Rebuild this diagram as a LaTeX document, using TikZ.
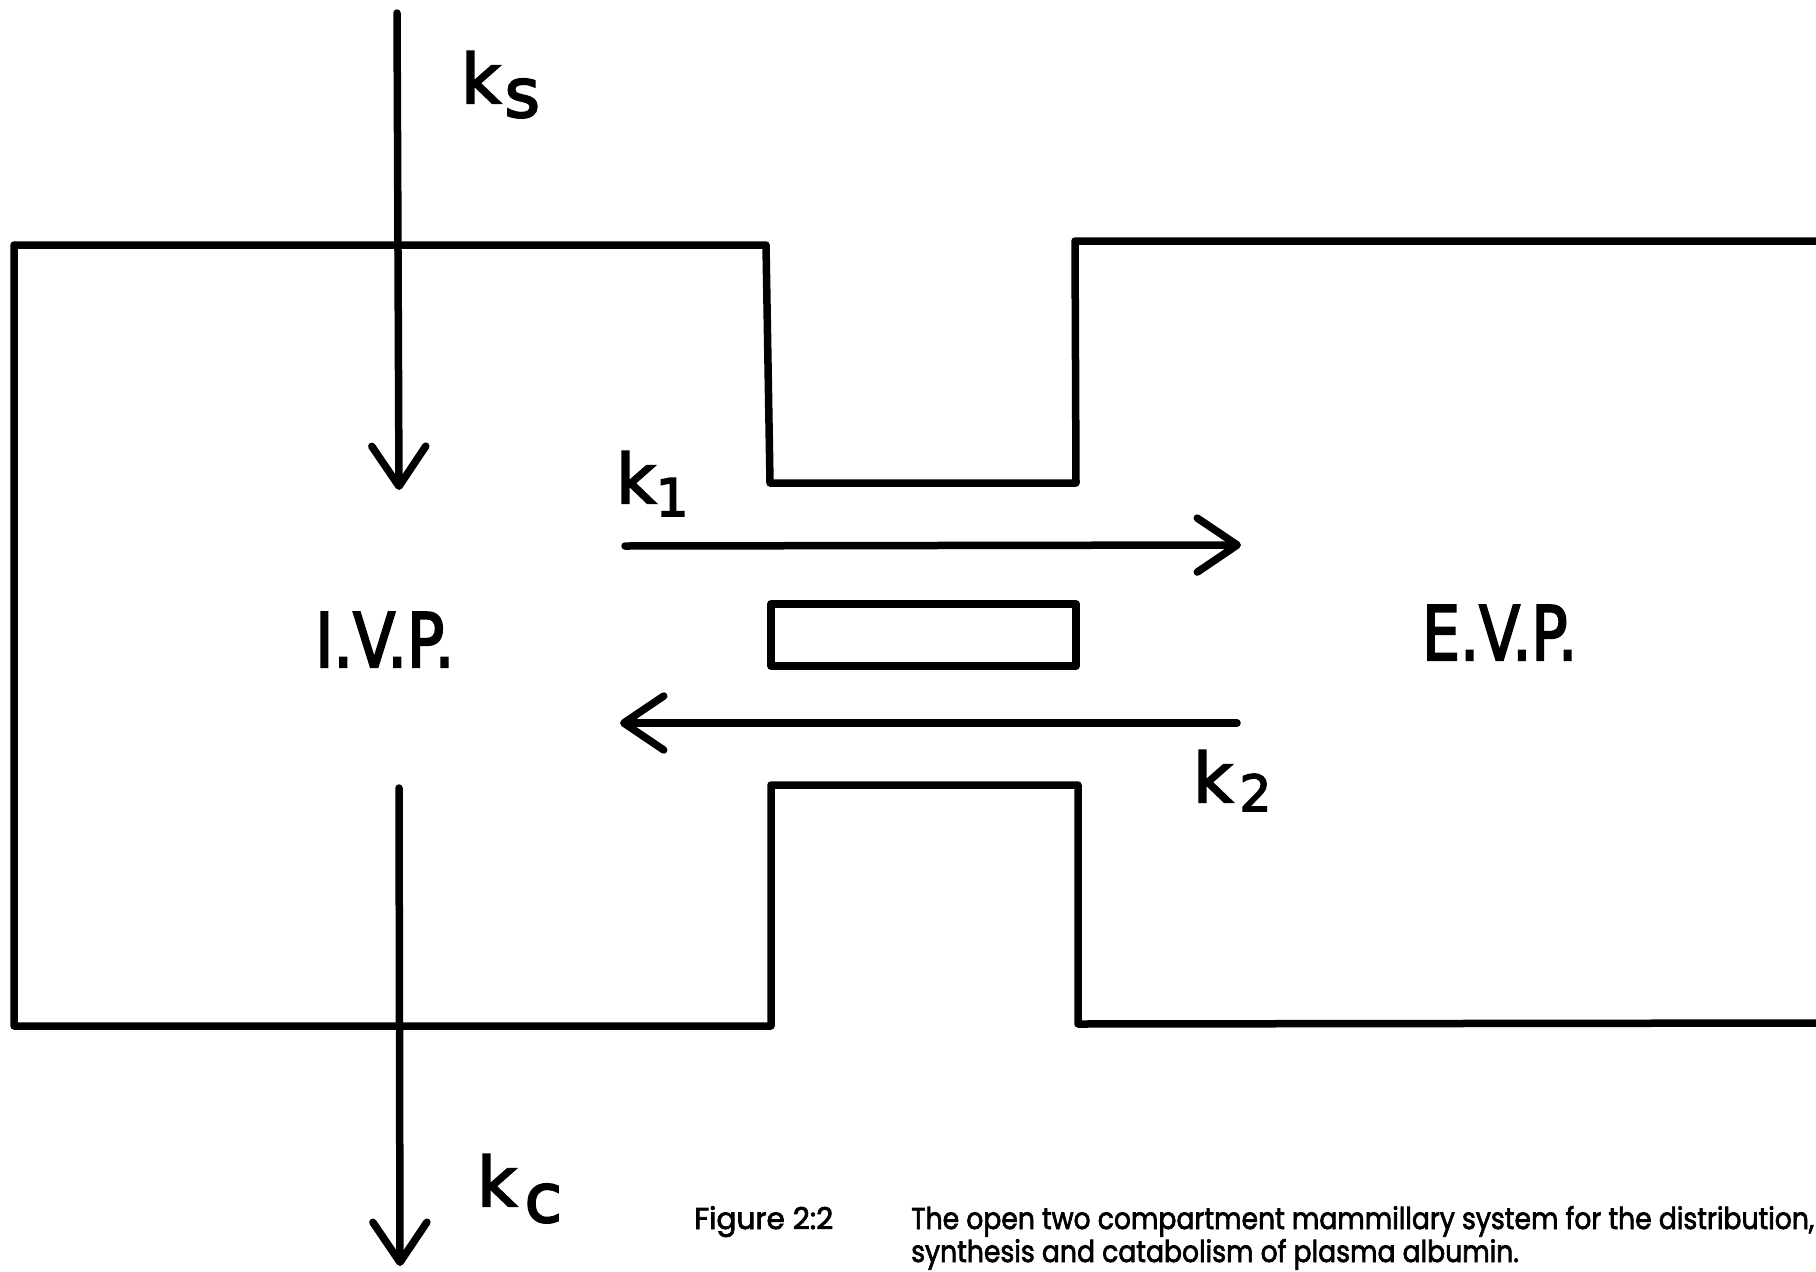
\documentclass[tikz,border=0pt]{standalone}
\usepackage{fontspec}
\setmainfont{DejaVu Sans}
\newfontfamily\capfont{Poppins}[FakeBold=2.5]
\newfontfamily\lblfont{DejaVu Sans}[FakeBold=3]
\usetikzlibrary{arrows.meta}
\newlength\lineone
\AtBeginDocument{%
  \settowidth\lineone{\capfont\fontsize{30}{30}\selectfont The open two compartment mammillary system for the distribution,}%
  \pgfmathsetmacro\capsx{903/\lineone}}
\begin{document}
\begin{tikzpicture}[x=1pt,y=-1pt,
  wall/.style={line width=7.5pt, line join=round, line cap=round},
  flow/.style={line width=7.5pt, line cap=round, -{Straight Barb[length=40pt,width=54pt,round]}},
  lbl/.style={anchor=base west, inner sep=0pt, font=\lblfont\fontsize{68}{68}\selectfont},
  pool/.style={anchor=base west, inner sep=0pt, font=\lblfont\fontsize{75}{75}\selectfont},
  captext/.style={anchor=base west, inner sep=0pt, font=\capfont\fontsize{30}{30}\selectfont}]
\useasboundingbox (0,0) rectangle (1816,1272);
\fill[white] (0,0) rectangle (1816,1272);
\clip (0,0) rectangle (1816,1272);
% compartments
\draw[wall] (1830,241) -- (1075,241) -- (1076,483) -- (770,483) -- (766,245) -- (14,245)
  -- (14,1026) -- (771,1026) -- (771,785) -- (1078,785) -- (1078,1024) -- (1830,1023);
\node[draw, line width=7.5pt, line join=round, minimum width=305pt, minimum height=62pt,
  inner sep=0pt, outer sep=0pt, anchor=north west] (barrier) at (771,604) {};
% pool labels
\node[pool] (ivp) at (315,667) {\resizebox{139pt}{\height}{I.V.P.}};
\node[pool] (evp) at (1422,660) {\resizebox{155pt}{\height}{E.V.P.}};
% flow end points
\coordinate (ksA) at (397,13);
\coordinate (ksB) at (399,490);
\coordinate (kcA) at (399,788);
\coordinate (kcB) at (400,1266);
\coordinate (kaA) at (625,546);
\coordinate (kaB) at (1241,545);
\coordinate (kbA) at (1237,723);
\coordinate (kbB) at (620,723);
\draw[flow] (ksA) -- (ksB);
\draw[flow] (kcA) -- (kcB);
\draw[flow] (kaA) -- (kaB);
\draw[flow] (kbA) -- (kbB);
% rate labels
\node[lbl] (ks) at (461,103) {k\hspace{4pt}\raisebox{-14pt}{s}};
\node[lbl] (kc) at (477,1206) {k\hspace{8pt}\raisebox{-16pt}{c}};
\node[lbl] (k1) at (616,503) {k\raisebox{-13pt}{\fontsize{52}{52}\selectfont 1}};
\node[lbl] (k2) at (1193,802) {k\hspace{7pt}\raisebox{-9pt}{\fontsize{50}{50}\selectfont 2}};
% caption
\node[captext] (fig) at (694,1229) {\resizebox{139pt}{\height}{Figure 2:2}};
\node[captext] (capa) at (911,1229) {\scalebox{\capsx}[1]{The open two compartment mammillary system for the distribution,}};
\node[captext] (capb) at (911,1262) {\scalebox{\capsx}[1]{synthesis and catabolism of plasma albumin.}};
\end{tikzpicture}
\end{document}
